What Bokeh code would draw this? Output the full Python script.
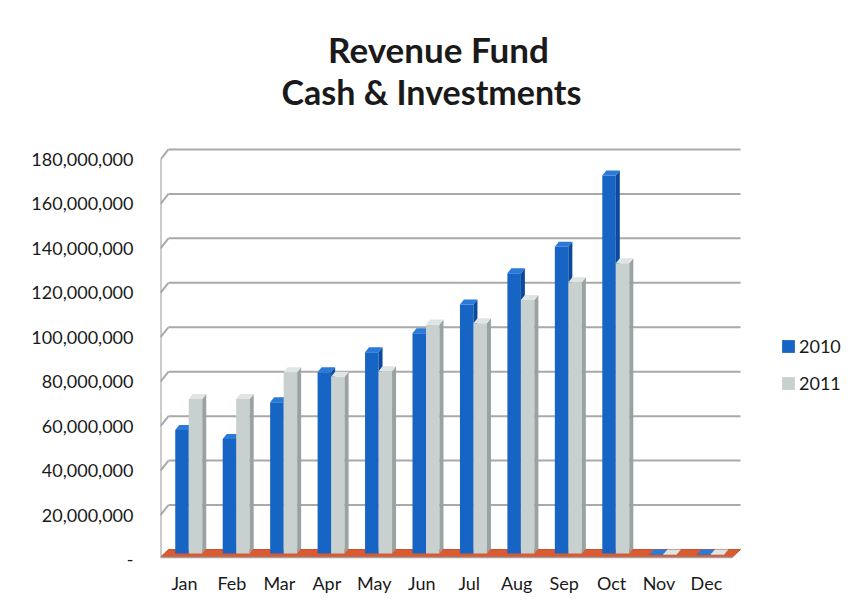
from bokeh.plotting import figure
from bokeh.models import Range1d, LinearAxis, Legend, LegendItem, Label, FixedTicker
from bokeh.embed import file_html
from bokeh.resources import INLINE

# ---------------- data ----------------
months = ["Jan", "Feb", "Mar", "Apr", "May", "Jun", "Jul", "Aug", "Sep", "Oct", "Nov", "Dec"]
rev_2010 = [56.0e6, 52.0e6, 68.5e6, 82.0e6, 91.0e6, 99.5e6, 112.5e6, 126.5e6, 138.5e6, 170.5e6, 0.0, 0.0]
rev_2011 = [70.0e6, 70.0e6, 82.0e6, 80.0e6, 82.5e6, 103.5e6, 104.0e6, 114.5e6, 122.5e6, 131.0e6, 0.0, 0.0]
y_ticks = [0, 20e6, 40e6, 60e6, 80e6, 100e6, 120e6, 140e6, 160e6, 180e6]
y_tick_labels = ["-", "20,000,000", "40,000,000", "60,000,000", "80,000,000",
                 "100,000,000", "120,000,000", "140,000,000", "160,000,000", "180,000,000"]
series_names = ["2010", "2011"]
title_lines = ["Revenue Fund", "Cash & Investments"]

# ---------------- geometry / style ----------------
FONT = "Lato"
W, H = 857, 609
FRAME_L, FRAME_R, FRAME_T, FRAME_B = 160, 850, 0, 561   # frame in page pixels
X0_PX, Y0_PX = 184, 549                                  # pixel of category 0 / value 0 (back wall)
px_per_cat = 47.45
px_per_M = 2.2225
M = 1e6


def xpx(px):
    return (px - X0_PX) / px_per_cat


def ypx(py):
    return (Y0_PX - py) / px_per_M * M


x_start, x_end = xpx(FRAME_L), xpx(FRAME_R)
y_start, y_end = ypx(FRAME_B), ypx(FRAME_T)
front_shift = 10 / px_per_M * M     # front axis is 10px below back wall
wall_dx = 8 / px_per_cat            # depth offset of back wall in x
plot_right = xpx(740)               # right end of back wall / floor
floor_front_right = xpx(732)

bar_w = 13.5 / px_per_cat
off_a = -2.5 / px_per_cat
off_b = 11.0 / px_per_cat
dx = 4.0 / px_per_cat
dy = 5.0 / px_per_M * M
base = -1.8 * M

p = figure(width=W, height=H, output_backend="svg", toolbar_location=None,
           x_range=Range1d(x_start, x_end), y_range=Range1d(y_start, y_end),
           min_border_left=FRAME_L, min_border_right=W - FRAME_R,
           min_border_top=FRAME_T, min_border_bottom=H - FRAME_B,
           background_fill_color="white", border_fill_color="white")
p.outline_line_color = None
p.xgrid.visible = False
p.ygrid.visible = False
p.yaxis.visible = False

# x axis
p.xaxis.ticker = FixedTicker(ticks=list(range(len(months))))
p.xaxis.major_label_overrides = {i: m for i, m in enumerate(months)}
p.xaxis.axis_line_color = None
p.xaxis.major_tick_line_color = None
p.xaxis.minor_tick_line_color = None
p.xaxis.major_label_text_font = FONT
p.xaxis.major_label_text_font_size = "18px"
p.xaxis.major_label_text_color = "#1a1a1a"
p.xaxis.major_label_standoff = 4

# y axis on front edge
p.extra_y_ranges = {"front": Range1d(y_start + front_shift, y_end + front_shift)}
yax = LinearAxis(y_range_name="front", ticker=FixedTicker(ticks=y_ticks))
yax.major_label_overrides = {t: l for t, l in zip(y_ticks, y_tick_labels)}
yax.axis_line_color = None
yax.major_tick_line_color = None
yax.minor_tick_line_color = None
yax.major_label_text_font = FONT
yax.major_label_text_font_size = "18px"
yax.major_label_text_color = "#1a1a1a"
yax.major_label_standoff = 21
p.add_layout(yax, "left")

# floor
p.patch([x_start, floor_front_right, plot_right, x_start + wall_dx],
        [-3.4 * M, -3.4 * M, 0, 0], fill_color="#d95b33", line_color="#c9532e", line_width=1)
p.line([x_start, floor_front_right], [-3.6 * M, -3.6 * M], line_color="#a8a0a0", line_width=1.5)

# back wall gridlines + left wall slants
grid_col = "#a9a9a9"
for t in y_ticks[1:]:
    p.line([x_start + wall_dx, plot_right], [t, t], line_color=grid_col, line_width=2)
    p.line([x_start, x_start + wall_dx], [t - front_shift, t], line_color=grid_col, line_width=2)
p.line([x_start, x_start], [-3.4 * M, y_ticks[-1] - front_shift], line_color="#9a9a9a", line_width=2)


def draw_series(vals, off, front, top, side):
    xs = [i + off for i in range(len(vals))]
    p.vbar(x=xs, width=bar_w, bottom=base, top=[v - dy for v in vals],
           fill_color=front, line_color=None)
    tops_x, tops_y, sides_x, sides_y = [], [], [], []
    for x, v in zip(xs, vals):
        x0, x1 = x - bar_w / 2, x + bar_w / 2
        tops_x.append([x0, x1, x1 + dx, x0 + dx])
        tops_y.append([v - dy, v - dy, v, v])
        sides_x.append([x1, x1 + dx, x1 + dx, x1])
        sides_y.append([base, base + dy, v, v - dy])
    p.patches(sides_x, sides_y, fill_color=side, line_color=None)
    p.patches(tops_x, tops_y, fill_color=top, line_color=None)
    # legend swatch renderer, its single box lies outside the visible range
    return p.quad(left=[x_start - 5], right=[x_start - 4], top=[1], bottom=[0],
                  fill_color=front, line_color=None)


r10 = draw_series(rev_2010, off_a, "#1664c4", "#2b7ad8", "#0c4a9c")
r11 = draw_series(rev_2011, off_b, "#c8d0d0", "#dfe5e5", "#9aa2a2")

legend = Legend(items=[LegendItem(label=series_names[0], renderers=[r10]),
                       LegendItem(label=series_names[1], renderers=[r11])],
                location=(780 - FRAME_L, FRAME_B - 394), orientation="vertical",
                glyph_width=16, glyph_height=16, label_height=22, spacing=15,
                label_standoff=3, padding=0, margin=0,
                label_text_font=FONT, label_text_font_size="18px", label_text_color="#1a1a1a",
                border_line_color=None, background_fill_alpha=0)
p.add_layout(legend, "center")

# two-line title
for txt, cx, base_y, size in [(title_lines[0], 438, 48, "35px"), (title_lines[1], 431, 91, "34px")]:
    p.add_layout(Label(x=xpx(cx), y=ypx(base_y), text=txt, text_align="center",
                       text_baseline="alphabetic", text_font=FONT, text_font_style="bold",
                       text_font_size=size, text_color="#1a1a1a"))

open("out.html", "w").write(file_html(p, INLINE))
